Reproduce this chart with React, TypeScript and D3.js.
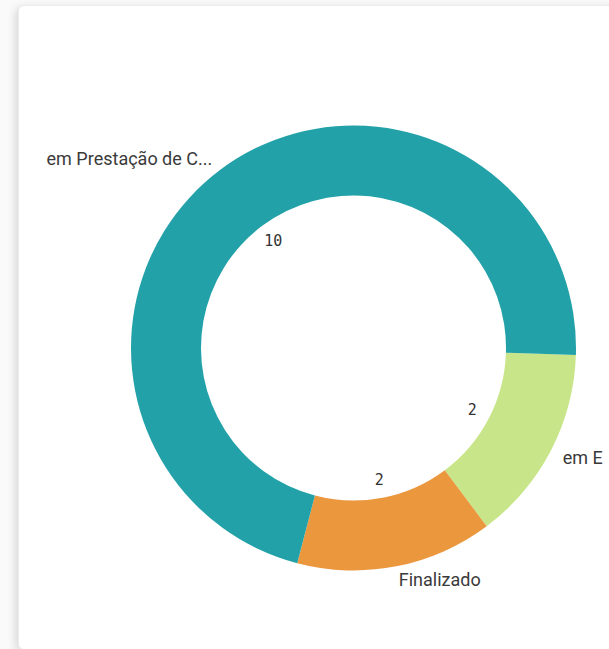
import React from "react";
import * as d3 from "d3";

const categories = ["em Execução", "Finalizado", "em Prestação de Contas"];
const displayLabels = ["em E", "Finalizado", "em Prestação de C..."];
const values = [2, 2, 10];
const colors = ["#c8e689", "#eb973e", "#23a1a8"];

const W = 609;
const H = 649;
const cx = 353.5;
const cy = 348;
const outerR = 222.5;
const innerR = 152.5;
const labelR = 236;
const valueR = 134;
const startDeg = 91.8;

export default function App() {
  const pie = d3
    .pie<number>()
    .sort(null)
    .value((d) => d)
    .startAngle((startDeg * Math.PI) / 180)
    .endAngle(((startDeg + 360) * Math.PI) / 180);
  const arcs = pie(values);
  const arc = d3.arc<d3.PieArcDatum<number>>().innerRadius(innerR).outerRadius(outerR);

  return (
    <div style={{ position: "fixed", left: 0, top: 0, width: W, height: H, overflow: "hidden", background: "#fafafa" }}>
      <div
        style={{
          position: "absolute",
          left: 18,
          top: 5,
          width: 720,
          height: 643,
          background: "#fff",
          borderRadius: 6,
          border: "1px solid #ececec",
          boxShadow: "-3px 2px 8px rgba(0,0,0,0.13)",
        }}
      />
      <svg width={W} height={H} style={{ position: "absolute", left: 0, top: 0 }}>
        <g transform={`translate(${cx},${cy})`}>
          {arcs.map((a, i) => (
            <path key={categories[i]} d={arc(a) || ""} fill={colors[i]} />
          ))}
          {arcs.map((a, i) => {
            const mid = (a.startAngle + a.endAngle) / 2;
            const lx = labelR * Math.sin(mid);
            const ly = -labelR * Math.cos(mid);
            const vx = valueR * Math.sin(mid);
            const vy = -valueR * Math.cos(mid);
            const anchor = Math.sin(mid) >= 0 ? "start" : "end";
            return (
              <g key={"l" + i}>
                <text
                  x={lx}
                  y={ly}
                  textAnchor={anchor}
                  dominantBaseline="central"
                  fontFamily="Roboto, 'Noto Sans', sans-serif"
                  fontSize={18}
                  fill="#3a3a3a"
                >
                  {displayLabels[i]}
                  <title>{categories[i]}</title>
                </text>
                <text
                  x={vx}
                  y={vy}
                  textAnchor="middle"
                  dominantBaseline="central"
                  fontFamily="'DejaVu Sans Mono', monospace"
                  fontSize={15}
                  fill="#333"
                >
                  {values[i]}
                </text>
              </g>
            );
          })}
        </g>
      </svg>
    </div>
  );
}
